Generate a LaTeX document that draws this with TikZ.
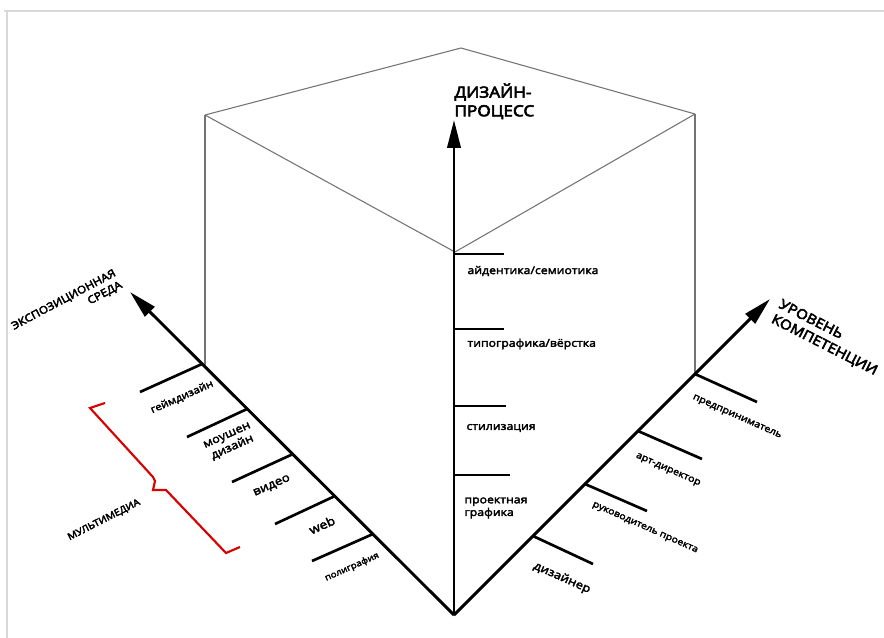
\documentclass[tikz,border=0pt]{standalone}
\usepackage{fontspec}
\setmainfont{Open Sans}[FakeStretch=1.15]
\newfontfamily\labfont{Open Sans}[FakeStretch=1.15,FakeBold=3]
\newfontfamily\headfont{Open Sans}[FakeStretch=1.12,FakeBold=4]
\usetikzlibrary{arrows.meta}

\tikzset{every picture/.style={line width=0.75pt}}
\tikzset{
  axisline/.style={line width=2.2pt,-{Triangle[length=21pt,width=10pt]}},
  tickline/.style={line width=2pt},
  cubeline/.style={draw=black!55,line width=0.8pt},
  lbl/.style={inner sep=0.75pt,font=\labfont\fontsize{8}{9.5}\selectfont},
  head/.style={inner sep=0.75pt,font=\headfont\fontsize{11.5}{14}\selectfont}
}

\begin{document}
\begin{tikzpicture}[x=0.75pt,y=0.75pt,yscale=-1,xscale=1]
\useasboundingbox (0,0) rectangle (884,638);

%frame
\draw [draw=black!15,line width=1.5pt] (4,11) -- (884,11) (7,11) -- (7,638);

%cube
\draw [cubeline] (205,115) -- (461,48) -- (695,114) ;
\draw [cubeline] (205,115) -- (455,252) -- (695,114) ;
\draw [cubeline] (205,115) -- (205,365) ;
\draw [cubeline] (695,114) -- (695,374) ;

%axes
\coordinate (O) at (454,615);
\coordinate (up) at (454,120);
\coordinate (lt) at (130,292);
\coordinate (rt) at (770,299);
\draw [axisline] (O) -- (up);
\draw [axisline] (O) -- (lt);
\draw [axisline] (O) -- (rt);

%ticks: process
\draw [tickline] (454,254) -- (504,254) ;
\draw [tickline] (454,329) -- (504,329) ;
\draw [tickline] (454,406) -- (506,406) ;
\draw [tickline] (454,475) -- (510,475) ;
%ticks: media
\draw [tickline] (202,364) -- (140,392) ;
\draw [tickline] (247,409) -- (187,437) ;
\draw [tickline] (293,454) -- (232,482) ;
\draw [tickline] (335,496) -- (275,524) ;
\draw [tickline] (373,534) -- (312,561) ;
%ticks: competence
\draw [tickline] (695,374) -- (757,402) ;
\draw [tickline] (638,431) -- (702,459) ;
\draw [tickline] (585,484) -- (647,511) ;
\draw [tickline] (533,536) -- (593,564) ;

%brace
\draw [red!85!black,line width=1.6pt] (105,403) -- (90,408) -- (153,477) -- (155,481) -- (153,490) -- (166,490) -- (226,553) -- (240,547) ;

% Text Node
\node [head,anchor=north west,align=left] (proc) at (453,82) {ДИЗАЙН-\\ПРОЦЕСС};
% Text Node
\node [head,rotate=28,align=right,font=\headfont\fontsize{8}{10}\selectfont] (expo) at (67,306) {ЭКСПОЗИЦИОННАЯ\\СРЕДА};
% Text Node
\node [head,rotate=-27,align=left,font=\headfont\fontsize{10.2}{12.5}\selectfont] (comp) at (828,338) {УРОВЕНЬ\\КОМПЕТЕНЦИИ};
% Text Node
\node [head,rotate=27,font=\headfont\fontsize{7}{8}\selectfont] (multi) at (104,520) {МУЛЬТИМЕДИА};

% Text Node
\node [lbl,anchor=west] (ident) at (466,271) {айдентика/семиотика};
% Text Node
\node [lbl,anchor=west] (typo) at (466,344) {типографика/вёрстка};
% Text Node
\node [lbl,anchor=west] (styl) at (465,428) {стилизация};
% Text Node
\node [lbl,anchor=west,align=left] (projg) at (463,508) {проектная\\графика};

% Text Node
\node [lbl,rotate=24,font=\labfont\fontsize{7.5}{9}\selectfont] (game) at (182,397) {геймдизайн};
% Text Node
\node [lbl,rotate=24,align=center,font=\labfont\fontsize{8.4}{10}\selectfont] (motion) at (230,442) {моушен\\дизайн};
% Text Node
\node [lbl,rotate=24,font=\labfont\fontsize{8.7}{10}\selectfont] (video) at (272,486) {видео};
% Text Node
\node [lbl,rotate=24,font=\labfont\fontsize{9}{10}\selectfont] (web) at (322,525) {web};
% Text Node
\node [lbl,rotate=24,font=\labfont\fontsize{6.4}{8}\selectfont] (print) at (352,567) {полиграфия};

% Text Node
\node [lbl,rotate=-24,font=\labfont\fontsize{7}{8}\selectfont] (entre) at (737,417) {предприниматель};
% Text Node
\node [lbl,rotate=-24,font=\labfont\fontsize{7}{8}\selectfont] (artd) at (668,470) {арт-директор};
% Text Node
\node [lbl,rotate=-24,font=\labfont\fontsize{6.8}{8}\selectfont] (lead) at (645,528) {руководитель проекта};
% Text Node
\node [lbl,rotate=-24,font=\labfont\fontsize{8.5}{9}\selectfont] (des) at (562,578) {дизайнер};

\end{tikzpicture}
\end{document}
